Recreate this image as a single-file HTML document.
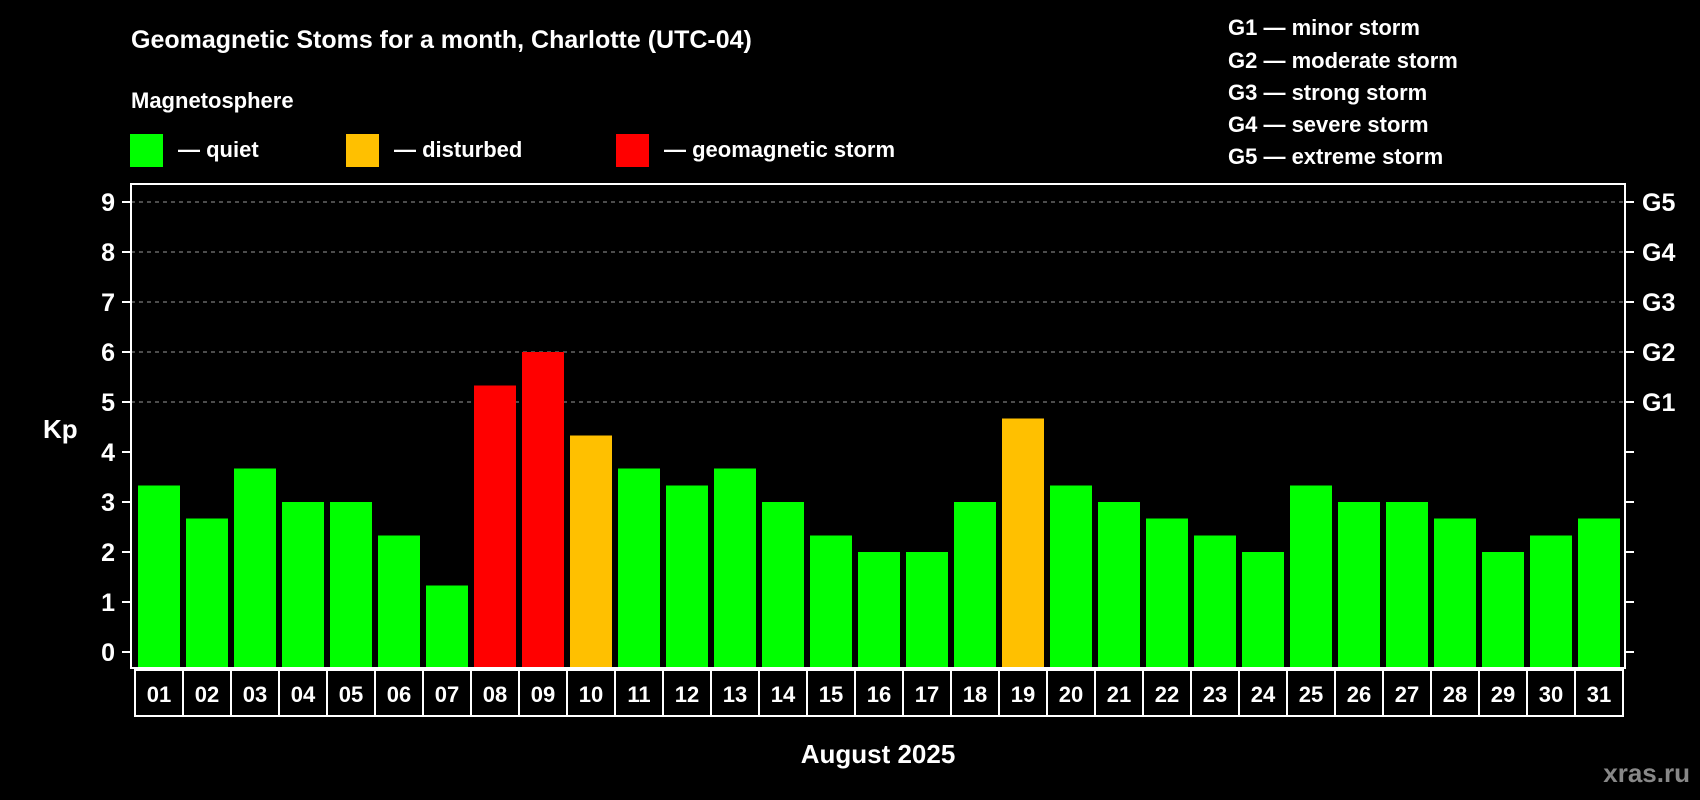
<!DOCTYPE html>
<html><head><meta charset="utf-8"><style>
body{margin:0;background:#000;width:1700px;height:800px;overflow:hidden}
svg{display:block;font-family:"Liberation Sans",Arial,sans-serif;font-weight:bold}
</style></head><body>
<svg id="c" width="1700" height="800" xmlns="http://www.w3.org/2000/svg">
<rect width="1700" height="800" fill="#000"/>
<text x="131" y="48" fill="#fff" font-size="25">Geomagnetic Stoms for a month, Charlotte (UTC-04)</text>
<text x="131" y="108" fill="#fff" font-size="22">Magnetosphere</text>
<rect x="130" y="134" width="33" height="33" fill="#00ff00"/>
<text x="178" y="157" fill="#fff" font-size="22">— quiet</text>
<rect x="346" y="134" width="33" height="33" fill="#ffc000"/>
<text x="394" y="157" fill="#fff" font-size="22">— disturbed</text>
<rect x="616" y="134" width="33" height="33" fill="#ff0000"/>
<text x="664" y="157" fill="#fff" font-size="22">— geomagnetic storm</text>
<g font-size="22" fill="#fff">
<text x="1228" y="35">G1 — minor storm</text>
<text x="1228" y="68">G2 — moderate storm</text>
<text x="1228" y="100">G3 — strong storm</text>
<text x="1228" y="132">G4 — severe storm</text>
<text x="1228" y="164">G5 — extreme storm</text>
</g>
<text x="43" y="438" fill="#fff" font-size="26">Kp</text>
<text x="878" y="763" fill="#fff" font-size="26" text-anchor="middle">August 2025</text>
<text x="1690" y="782" fill="#888" font-size="26" text-anchor="end">xras.ru</text>
<g id="grid"></g><g id="bars"></g><g id="axes"></g>
</svg>
<script>
const days=["01","02","03","04","05","06","07","08","09","10","11","12","13","14","15","16","17","18","19","20","21","22","23","24","25","26","27","28","29","30","31"];
const kpValues=[3.33,2.67,3.67,3,3,2.33,1.33,5.33,6,4.33,3.67,3.33,3.67,3,2.33,2,2,3,4.67,3.33,3,2.67,2.33,2,3.33,3,3,2.67,2,2.33,2.67];
const yTicks=[0,1,2,3,4,5,6,7,8,9];
const gLabels=["G1","G2","G3","G4","G5"];
const gLevels=[5,6,7,8,9];
const NS="http://www.w3.org/2000/svg";
const X0=131,X1=1625,TOP=184,BOT=668;
const y=v=>652-v*50.0;
const x=i=>138+i*48;
function mk(t,a,p){const e=document.createElementNS(NS,t);for(const k in a)e.setAttribute(k,a[k]);p.appendChild(e);return e;}
const grid=document.getElementById('grid'),bars=document.getElementById('bars'),axes=document.getElementById('axes');
gLevels.forEach((v,i)=>{
 const l=mk('line',{x1:X0,x2:X1,y1:y(v),y2:y(v),stroke:'#999','stroke-dasharray':'4,4','stroke-width':1},grid);
 
 
 const t=mk('text',{x:1642,y:y(v)+9,fill:'#fff','font-size':25},axes);t.textContent=gLabels[i];
 
 
});
kpValues.forEach((v,i)=>{
 const col=v>=5?'#ff0000':(v>=4?'#ffc000':'#00ff00');
 const r=mk('rect',{x:x(i),y:y(v),width:42,height:BOT-y(v),fill:col},bars);
 
 
 const b=mk('rect',{x:135+i*48,y:670,width:48,height:46,fill:'none',stroke:'#fff','stroke-width':2},axes);
 
 
 const t=mk('text',{x:159+i*48,y:702,fill:'#fff','font-size':22,'text-anchor':'middle'},axes);t.textContent=days[i];
 
 
});
const fr=mk('rect',{x:X0,y:TOP,width:X1-X0,height:BOT-TOP,fill:'none',stroke:'#fff','stroke-width':2},axes);


yTicks.forEach(v=>{
 mk('line',{x1:X0-9,x2:X0,y1:y(v),y2:y(v),stroke:'#fff','stroke-width':2},axes);
 mk('line',{x1:X1,x2:X1+9,y1:y(v),y2:y(v),stroke:'#fff','stroke-width':2},axes);
 const t=mk('text',{x:115,y:y(v)+9,fill:'#fff','font-size':25,'text-anchor':'end'},axes);t.textContent=v;
 
 
});
</script>
</body></html>
